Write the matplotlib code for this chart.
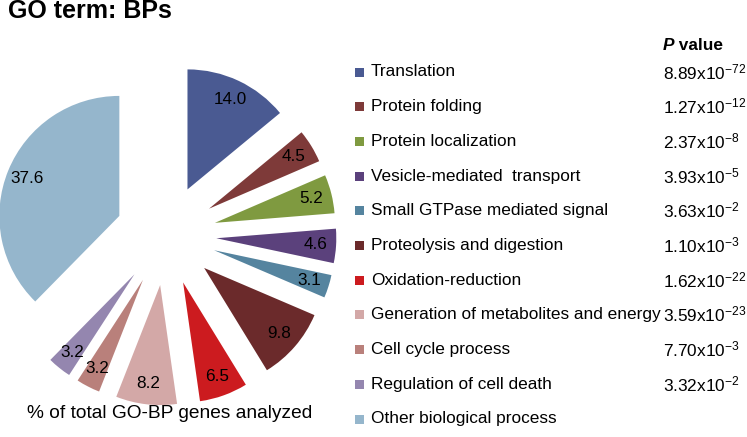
"""GO term BP pie chart with exploded wedges and a P value legend."""
import matplotlib
matplotlib.use("Agg")
import matplotlib.pyplot as plt
from matplotlib.patches import Rectangle

plt.rcParams["font.family"] = ["Liberation Sans", "DejaVu Sans"]
plt.rcParams["mathtext.fontset"] = "custom"
plt.rcParams["mathtext.rm"] = "Liberation Sans"
plt.rcParams["mathtext.it"] = "Liberation Sans:italic"
plt.rcParams["mathtext.bf"] = "Liberation Sans:bold"

# Data
terms = [
    "Translation", "Protein folding", "Protein localization",
    "Vesicle-mediated  transport", "Small GTPase mediated signal",
    "Proteolysis and digestion", "Oxidation-reduction",
    "Generation of metabolites and energy", "Cell cycle process",
    "Regulation of cell death", "Other biological process",
]
percents = [14.0, 4.5, 5.2, 4.6, 3.1, 9.8, 6.5, 8.2, 3.2, 3.2, 37.6]
p_mant = ["8.89", "1.27", "2.37", "3.93", "3.63", "1.10", "1.62", "3.59",
          "7.70", "3.32", None]
p_exp = ["-72", "-12", "-8", "-5", "-2", "-3", "-22", "-23", "-3", "-2", None]
colors = ["#4A5A92", "#7E3A39", "#7F9A40", "#5B417C", "#55849F", "#6B2A2B",
          "#CC1B1F", "#D3A8A7", "#B9807B", "#9486AF", "#95B6CC"]

W, H = 747, 437
fig = plt.figure(figsize=(W / 100, H / 100), dpi=100)

# Pie axes: 1 data unit = 120 px, centre at (166, 235) px from top-left
scale = 120.0
cx, cy = 166.0, 235.0
ax = fig.add_axes([0, 0, 1, 1])
total = sum(percents)
wedges, _, autotexts = ax.pie(
    percents, colors=colors, startangle=90, counterclock=False,
    explode=[0.42] * len(percents), pctdistance=0.83,
    autopct=lambda p: f"{p * total / 100:.1f}",
    textprops={"fontsize": 12.3, "color": "black"},
    wedgeprops={"linewidth": 0},
)
ax.set_aspect("auto")
ax.set_xlim(-cx / scale, (W - cx) / scale)
ax.set_ylim(-(H - cy) / scale, cy / scale)
ax.axis("off")

# Overlay axes in pixel coordinates for title and legend
ov = fig.add_axes([0, 0, 1, 1])
ov.set_xlim(0, W)
ov.set_ylim(H, 0)
ov.axis("off")

ov.text(8, 11, "GO term: BPs", fontsize=18, fontweight="bold", va="center")
ov.text(170, 414, "% of total GO-BP genes analyzed", fontsize=13.8,
        ha="center", va="center")

ptxt = ov.text(663, 45, "P", fontsize=12.4, fontweight="bold",
               fontstyle="italic", va="center")
ov.annotate(" value", xy=(1, 0), xycoords=ptxt, fontsize=12.4,
            fontweight="bold", va="bottom")

row_y0, row_dy = 72, 34.7
for i, term in enumerate(terms):
    y = row_y0 + i * row_dy
    ov.add_patch(Rectangle((355, y - 4.5), 9, 9, color=colors[i], lw=0))
    ov.text(371, y, term, fontsize=12.4, va="center")
    if p_mant[i] is not None:
        ov.text(663, y, f"{p_mant[i]}x10$^{{{p_exp[i]}}}$", fontsize=12.4,
                va="center")

fig.savefig("out.png", dpi=100)
